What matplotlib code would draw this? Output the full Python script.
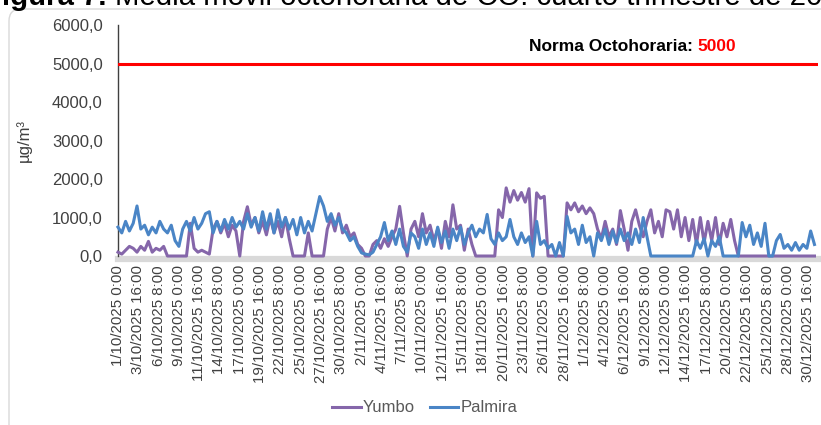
"""Media móvil octohoraria de CO, cuarto trimestre 2025 (Yumbo / Palmira)."""

import matplotlib.pyplot as plt
import pandas as pd
from matplotlib.patches import FancyBboxPatch
from matplotlib.transforms import IdentityTransform

plt.rcParams["font.family"] = ["Liberation Sans", "DejaVu Sans"]

# 12-hourly readings (00:00 and 12:00 of each day), µg/m3
times = pd.date_range("2025-10-01 00:00", periods=184, freq="12h")

yumbo = [
    100, 50, 150, 250, 200, 100, 250, 150, 380, 100,
    200, 150, 250, 0, 0, 0, 0, 0, 0, 850,
    200, 100, 150, 100, 50, 700, 900, 600, 850, 500,
    800, 650, 0, 900, 1280, 800, 1000, 600, 900, 550,
    1000, 600, 900, 500, 1000, 450, 0, 0, 0, 0,
    600, 0, 0, 0, 0, 700, 1000, 650, 1100, 600,
    800, 500, 600, 300, 200, 0, 0, 300, 400, 200,
    450, 250, 500, 700, 1290, 600, 0, 700, 900, 500,
    1100, 600, 800, 400, 700, 200, 900, 500, 1330, 700,
    800, 150, 700, 300, 0, 0, 0, 0, 0, 0,
    1200, 1000, 1770, 1400, 1700, 1450, 1650, 1400, 1750, 0,
    1640, 1500, 1550, 0, 0, 0, 0, 0, 1380, 1200,
    1380, 1150, 1300, 1100, 1250, 1100, 700, 450, 900, 500,
    700, 300, 1180, 700, 150, 900, 1200, 800, 500, 900,
    1200, 600, 900, 500, 1200, 1150, 700, 1200, 500, 1000,
    400, 950, 300, 1000, 350, 900, 400, 1000, 300, 850,
    500, 950, 400, 0, 0, 0, 0, 0, 0, 0,
    0, 0, 0, 0, 0, 0, 0, 0, 0, 0,
    0, 0, 0, 0,
]

palmira = [
    750, 600, 900, 650, 850, 1300, 700, 800, 550, 750,
    600, 900, 700, 600, 800, 400, 250, 700, 900, 650,
    1000, 700, 850, 1100, 1150, 600, 900, 650, 950, 700,
    1000, 750, 900, 700, 1100, 750, 1000, 650, 1150, 700,
    1100, 600, 1200, 750, 1000, 700, 950, 550, 1000, 600,
    900, 650, 1100, 1545, 1300, 900, 1100, 800, 1000, 700,
    600, 400, 500, 250, 80, 50, 30, 100, 300, 500,
    870, 400, 650, 300, 700, 250, 100, 600, 500, 200,
    700, 300, 600, 250, 750, 350, 650, 200, 700, 400,
    750, 300, 600, 800, 500, 700, 600, 1080, 450, 300,
    600, 400, 500, 950, 500, 300, 600, 350, 500, 0,
    900, 300, 400, 200, 300, 0, 350, 0, 1030, 600,
    700, 300, 800, 350, 500, 0, 600, 400, 700, 300,
    650, 350, 700, 400, 600, 300, 700, 350, 1000, 500,
    0, 0, 0, 0, 0, 0, 0, 0, 0, 0,
    0, 0, 400, 200, 450, 0, 400, 250, 500, 0,
    0, 0, 0, 0, 870, 500, 800, 300, 600, 250,
    850, 0, 0, 400, 560, 200, 300, 150, 350, 150,
    300, 200, 650, 300,
]

norma = 5000
yticks = [0, 1000, 2000, 3000, 4000, 5000, 6000]
tick_times = pd.date_range("2025-10-01 00:00", "2025-12-31 23:00", freq="64h")
tick_labels = [f"{t.day}/{t.month}/{t.year} {t.hour}:{t.minute:02d}" for t in tick_times]

fig = plt.figure(figsize=(8.21, 4.25), dpi=100)
ax = fig.add_axes([0.1437, 0.3976, 0.8526, 0.5435])

# rounded chart border (runs off the right and bottom edges)
border = FancyBboxPatch(
    (9, -30), 860, 446,
    boxstyle="round,pad=0,rounding_size=12",
    transform=IdentityTransform(),
    fc="none", ec="#d9d9d9", lw=1.0,
)
fig.patches.append(border)

x = times.to_pydatetime()
ax.plot(x, yumbo, color="#8566aa", lw=2.2, clip_on=False, zorder=3, label="Yumbo")
ax.plot(x, palmira, color="#4a85c6", lw=2.2, clip_on=False, zorder=4, label="Palmira")
ax.axhline(norma, color="#ff0000", lw=2.2, zorder=5)

ax.set_xlim(times[0].to_pydatetime(), pd.Timestamp("2025-12-31 23:00").to_pydatetime())
ax.set_ylim(0, 6000)

ax.set_yticks(yticks)
ax.set_yticklabels([f"{v:.1f}".replace(".", ",") for v in yticks])
ax.set_xticks(tick_times.to_pydatetime())
ax.set_xticklabels(tick_labels)

ax.tick_params(axis="y", length=0, pad=11, labelsize=12, labelcolor="#404040")
ax.tick_params(axis="x", length=0, pad=4, labelsize=10.8, labelcolor="#404040",
               labelrotation=90)

for side in ("top", "right"):
    ax.spines[side].set_visible(False)
ax.spines["left"].set_color("#404040")
ax.spines["left"].set_linewidth(1.0)
ax.spines["bottom"].set_color("#d9d9d9")
ax.spines["bottom"].set_linewidth(4.5)
ax.spines["bottom"].set_position(("outward", 2.5))
ax.spines["bottom"].set_zorder(1)

ax.set_ylabel("µg/m³", fontsize=12, color="#404040")
ax.yaxis.set_label_coords(-0.123, 0.5)

# norm annotation: black bold label + red value
t_norma = ax.text(
    0.587, 0.887, "Norma Octohoraria: ", transform=ax.transAxes,
    fontsize=12.5, fontweight="bold", color="black", va="baseline", ha="left",
)
ax.annotate(
    f"{norma}", xy=(1, 0), xycoords=t_norma, fontsize=12.5, fontweight="bold",
    color="#ff0000", va="bottom", ha="left",
)

# figure title, cut off by the top edge as in the source image
t_fig = fig.text(
    -16 / 821, 1 - 5 / 425, "Figura 7. ", fontsize=21.2, fontweight="bold",
    va="baseline", ha="left",
)
ax.annotate(
    "Media móvil octohoraria de CO: cuarto trimestre de 2025", xy=(1, 0),
    xycoords=t_fig, fontsize=21.2, va="bottom", ha="left", annotation_clip=False,
)

ax.legend(
    loc="center", bbox_to_anchor=(425 / 821, 0.04), bbox_transform=fig.transFigure,
    ncol=2, frameon=False, fontsize=12, labelcolor="#595959",
    handlelength=1.7, handletextpad=0.15, columnspacing=0.9,
)

fig.savefig("out.png", dpi=100)
